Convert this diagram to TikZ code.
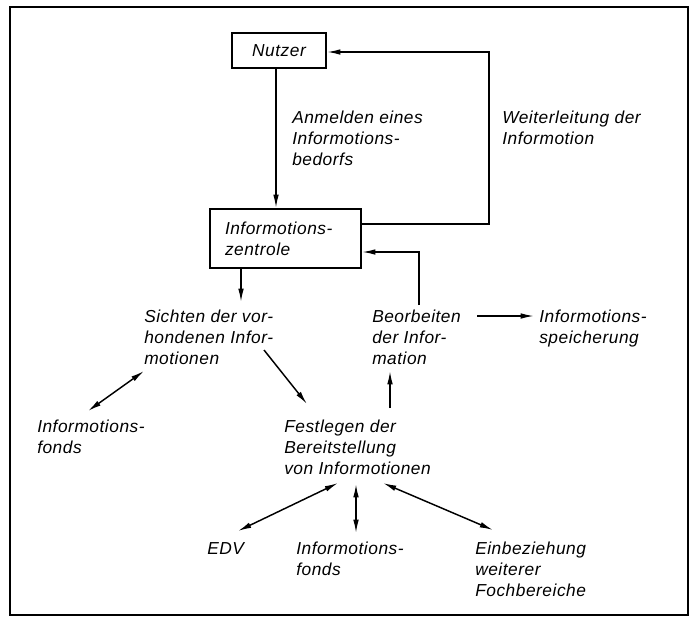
\documentclass[tikz,border=0pt]{standalone}
\usepackage{fontspec}
\setmainfont{Liberation Sans}
\newfontfamily\din{Liberation Sans}[LetterSpace=3]
\usetikzlibrary{arrows.meta,calc}
\tikzset{
  lbl/.style={font=\din\itshape\fontsize{13}{15.75}\selectfont, align=left, inner sep=0pt, anchor=base west},
  boxnode/.style={draw, line width=1.6pt, font=\din\itshape\fontsize{13}{15.75}\selectfont},
  conn/.style={line width=1.1pt, -{Latex[length=10pt,width=4.2pt]}},
  dconn/.style={line width=1.1pt, {Latex[length=10pt,width=4.2pt]}-{Latex[length=10pt,width=4.2pt]}},
  frame/.style={line width=1.5pt}
}
\begin{document}
\begin{tikzpicture}[x=0.75pt,y=-0.75pt]
\useasboundingbox (0,0) rectangle (698,618);
\draw[frame] (10,7) rectangle (688,615);

% boxes
\node[boxnode, minimum width=70.5pt, minimum height=26.25pt, inner sep=0pt] (nutzer) at (279,50.5) {Nutzer};
\node[boxnode, align=left, text width=90.75pt, inner xsep=11.25pt, minimum height=44.25pt, inner ysep=0pt] (zent) at (285.5,238.5) {Informotions-\\zentrole};

% labels (base = baseline of last line)
\node[lbl] (anm) at (292,165.5) {Anmelden eines\\Informotions-\\bedorfs};
\node[lbl] (weiter) at (502,144.5) {Weiterleitung der\\Informotion};
\node[lbl] (sich) at (144,364.5) {Sichten der vor-\\hondenen Infor-\\motionen};
\node[lbl] (beo) at (372,364.5) {Beorbeiten\\der Infor-\\mation};
\node[lbl] (speich) at (539,343.5) {Informotions-\\speicherung};
\node[lbl] (fondsL) at (37,453.5) {Informotions-\\fonds};
\node[lbl] (fest) at (284,474.5) {Festlegen der\\Bereitstellung\\von Informotionen};
\node[lbl] (edv) at (207,554.5) {EDV};
\node[lbl] (fondsB) at (296,575.5) {Informotions-\\fonds};
\node[lbl] (einb) at (475,596.5) {Einbeziehung\\weiterer\\Fochbereiche};

% connectors
\draw[conn] ($(nutzer.south)+(-3,0)$) -- ($(zent.north)+(-9.5,0)$);
\draw[conn] ($(zent.east)+(0,-14.5)$) -| ($(nutzer.east)+(162,1.5)$) -- ($(nutzer.east)+(0,1.5)$);
\draw[conn] ($(beo.base west)+(47,-59.5)$) |- ($(zent.east)+(0,13.5)$);
\draw[conn] ($(zent.south)+(-44.5,0)$) -- ($(sich.base west)+(97,-62.5)$);
\draw[conn] ($(beo.base west)+(105,-48.5)$) -- ($(speich.base west)+(-5,-27.5)$);
\draw[dconn] ($(sich.base west)+(0,6.5)$) -- ($(fondsL.base west)+(51,-42.5)$);
\draw[conn] ($(sich.base west)+(120,-14.5)$) -- ($(fest.base west)+(23,-70.5)$);
\draw[conn] ($(fest.base west)+(106,-66.5)$) -- ($(beo.base west)+(18,6.5)$);
\draw[dconn] ($(fest.base west)+(54,8.5)$) -- ($(edv.base west)+(31,-23.5)$);
\draw[dconn] ($(fest.base west)+(72,9.5)$) -- ($(fondsB.base west)+(60,-42.5)$);
\draw[dconn] ($(fest.base west)+(99,8.5)$) -- ($(einb.base west)+(18,-66.5)$);
\end{tikzpicture}
\end{document}
